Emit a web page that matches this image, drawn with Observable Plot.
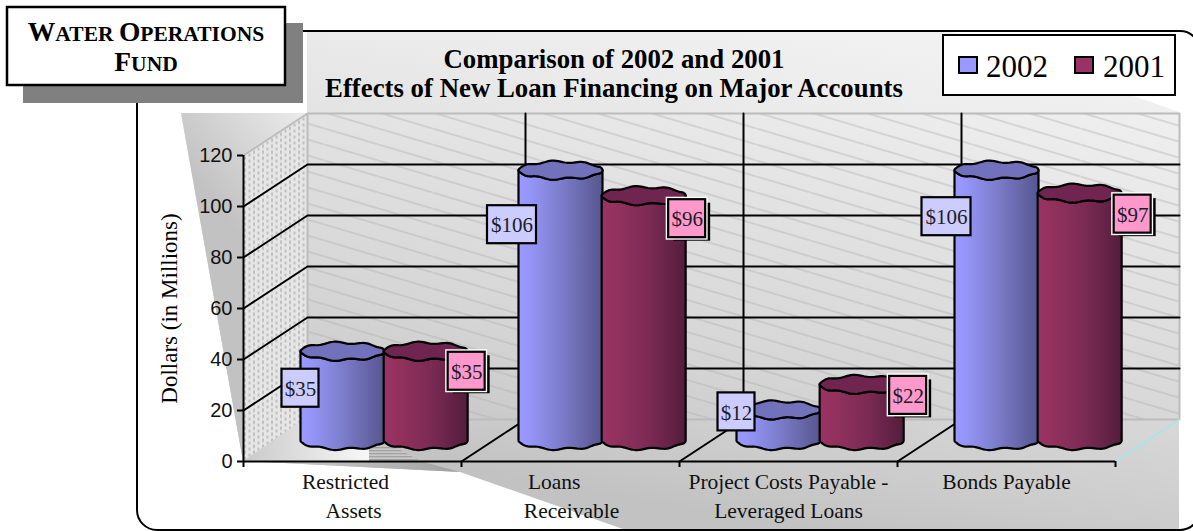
<!DOCTYPE html>
<html>
<head>
<meta charset="utf-8">
<title>Water Operations Fund</title>
<script src="https://cdn.jsdelivr.net/npm/d3@7"></script>
<script src="https://cdn.jsdelivr.net/npm/@observablehq/plot@0.6"></script>
<style>
  html, body { margin: 0; padding: 0; background: #fff; }
  svg { display: block; }
</style>
</head>
<body>
<div id="chart"></div>
<script>
// Values, in millions of dollars
const categories = ["Restricted Assets", "Loans Receivable", "Project Costs Payable - Leveraged Loans", "Bonds Payable"];
const values2002 = [35, 106, 12, 106];
const values2001 = [35, 96, 22, 97];
const yTicks = [0, 20, 40, 60, 80, 100, 120];

// Category label lines: text, plus the slot position it is centred on
const labelLines = ["Restricted", "Assets", "Loans", "Receivable", "Project Costs Payable -", "Leveraged Loans", "Bonds Payable"];
const labelSlots = [0.468, 0.505, 1.425, 1.505, 2.5, 2.5, 3.5];
const labelRows = [0, 1, 0, 1, 0, 1, 0];

// Value tags are hand placed relative to the top of their cylinder, in pixels
const tagShift2002 = [[-42, 37], [-48.5, 54.5], [-42, 2], [-50, 46.5]];
const tagShift2001 = [[41, 20], [43.5, 23], [46.5, 11], [53, 21]];

const serif = "Liberation Serif";
const sans = "Liberation Sans";

// Frame geometry shared by the scales and the 3-D projection
const W = 1193, H = 531, plotLeft = 243, plotRight = 1115, plotTop = 155, plotBottom = 461;
const pxX = (plotRight - plotLeft) / 4;      // pixels per category
const pxY = (plotBottom - plotTop) / 120;    // pixels per million
const depthX = 64 / pxX;             // full floor depth in x units
const depthY = 42 / pxY;             // full floor depth in y units

// Oblique projection: d = 0 at the front edge of the floor, d = 1 at the back wall
const at = (x, y, d = 0) => ({x: x + d * depthX, y: y + d * depthY});

const radiusX = 42 / pxX, radiusY = 8.6 / pxY, rimRipple = 0.45;
const rim = (t) => radiusY * Math.sin(t) + rimRipple * Math.sin(8 * t) * Math.abs(Math.sin(t));

// Outline of a cylinder wall: lower front arc at the base, then back along the top rim
function body(cx, v, id) {
  const pts = [];
  for (let k = 0; k <= 60; ++k) {
    const t = Math.PI * (1 - k / 60);
    const p = at(cx + radiusX * Math.cos(t), -rim(t), 0.5);
    pts.push({...p, id});
  }
  for (let k = 60; k >= 0; --k) {
    const t = Math.PI * (1 - k / 60);
    const p = at(cx + radiusX * Math.cos(t), v - rim(t), 0.5);
    pts.push({...p, id});
  }
  pts.push(pts[0]);
  return pts;
}

// Outline of the cylinder's top face
function cap(cx, v, id) {
  const pts = [];
  for (let k = 0; k <= 120; ++k) {
    const t = 2 * Math.PI * k / 120;
    const p = at(cx + radiusX * Math.cos(t), v - rim(t), 0.5);
    pts.push({...p, id});
  }
  return pts;
}

const centre2002 = (i) => i + 0.5 - radiusX;
const centre2001 = (i) => i + 0.5 + radiusX * 0.98;

const bodies2002 = values2002.flatMap((v, i) => body(centre2002(i), v, i));
const bodies2001 = values2001.flatMap((v, i) => body(centre2001(i), v, i));
const caps2002 = values2002.flatMap((v, i) => cap(centre2002(i), v, i));
const caps2001 = values2001.flatMap((v, i) => cap(centre2001(i), v, i));

// Tag boxes, converted from pixel offsets into data units
function tags(values, shifts, centre) {
  return values.map((v, i) => {
    const top3d = at(centre(i), v, 0.5);
    const text = "$" + v;
    const w = (text.length > 3 ? 49 : 37) / pxX, h = 38 / pxY;
    const x = top3d.x + shifts[i][0] / pxX, y = top3d.y - shifts[i][1] / pxY;
    return {text, x, y, x1: x - w / 2, x2: x + w / 2, y1: y - h / 2, y2: y + h / 2};
  });
}
const tags2002 = tags(values2002, tagShift2002, centre2002);
const tags2001 = tags(values2001, tagShift2001, centre2001);

// Wall and floor line work
const segment = (a, b, id) => [{...a, id}, {...b, id}];
const gridLevels = yTicks.slice(1, -1);
const gridLines = gridLevels.flatMap((v) => [
  {...at(0, v, 0), id: v}, {...at(0, v, 1), id: v}, {...at(4, v, 1), id: v}
]);
const dividers = [1, 2, 3].flatMap((i) => [
  {...at(i, 0, 0), id: i}, {...at(i, 0, 1), id: i}, {...at(i, 120, 1), id: i}
]);
const sideWall = [at(0, 0, 0), at(0, 120, 0), at(0, 120, 1), at(0, 0, 1), at(0, 0, 0)];
const backWall = [at(0, 0, 1), at(0, 120, 1), at(4, 120, 1), at(4, 0, 1), at(0, 0, 1)];
const wallEdge = [at(0, 120, 0), at(0, 120, 1), at(4, 120, 1), at(4, 0, 1), at(0, 0, 1), at(0, 120, 1)];

// Gradients and patterns, the rounded panel, the heading box and the legend
function panel() {
  const g = d3.create("svg:g");
  const defs = g.append("defs");

  const linear = (id, attrs, stops) => {
    const lg = defs.append("linearGradient").attr("id", id);
    Object.entries(attrs).forEach(([k, v]) => lg.attr(k, v));
    stops.forEach(([o, c]) => lg.append("stop").attr("offset", o).attr("stop-color", c));
  };
  linear("side2002", {}, [[0, "#9999ff"], [0.12, "#9696fa"], [0.5, "#7d7dcc"], [1, "#56568f"]]);
  linear("side2001", {}, [[0, "#993366"], [0.12, "#96325f"], [0.55, "#7c2b55"], [1, "#541d3c"]]);
  linear("panelShade", {gradientUnits: "userSpaceOnUse", x1: 1000, y1: 0, x2: 900, y2: 560},
    [[0.1, "#f1f1f1"], [0.25, "#ebebeb"], [0.45, "#e1e1e1"], [0.7, "#d6d6d6"], [0.86, "#cccccc"], [0.98, "#c2c2c2"]]);
  linear("wingShade", {gradientUnits: "userSpaceOnUse", x1: 205, y1: 190, x2: 307, y2: 110},
    [[0, "#c2c2c2"], [1, "#ececec"]]);
  linear("floorGlow", {gradientUnits: "userSpaceOnUse", x1: 250, y1: 0, x2: 365, y2: 0},
    [[0, "#cccccc"], [1, "#f6f6f6"]]);
  linear("floorTail", {gradientUnits: "userSpaceOnUse", x1: 250, y1: 0, x2: 450, y2: 0},
    [[0, "#d4d4d4"], [1, "#a4a4a4"]]);

  const hatch = defs.append("pattern").attr("id", "wallHatch")
    .attr("patternUnits", "userSpaceOnUse").attr("width", 54).attr("height", 16);
  hatch.append("line").attr("x1", 0).attr("y1", 0).attr("x2", 54).attr("y2", 16)
    .attr("stroke", "#aeaeae").attr("stroke-width", 0.8);

  const dots = defs.append("pattern").attr("id", "sideDots")
    .attr("patternUnits", "userSpaceOnUse").attr("width", 9).attr("height", 6);
  dots.append("rect").attr("width", 9).attr("height", 6).attr("fill", "#e6e6e6");
  dots.append("line").attr("x1", 1.5).attr("y1", 0).attr("x2", 1.5).attr("y2", 3.5)
    .attr("stroke", "#9a9a9a").attr("stroke-width", 1);
  dots.append("line").attr("x1", 6).attr("y1", 3).attr("x2", 6).attr("y2", 6)
    .attr("stroke", "#9a9a9a").attr("stroke-width", 1);

  const stripes = defs.append("pattern").attr("id", "floorStripes")
    .attr("patternUnits", "userSpaceOnUse").attr("width", 4).attr("height", 3);
  stripes.append("rect").attr("width", 4).attr("height", 3).attr("fill", "#c8c8c8");
  stripes.append("rect").attr("width", 4).attr("height", 1.3).attr("fill", "#a2a2a2");

  // White panel, the shaded backdrop, then the outline on top of both
  g.append("rect").attr("x", 137).attr("y", 31).attr("width", 1063).attr("height", 499)
    .attr("rx", 20).attr("fill", "white");
  g.append("path")
    .attr("d", "M307,32 L952,32 L1179,112 L1179,529 L623,529 L460,472 L243,461 L181,113 L307,113 Z")
    .attr("fill", "url(#panelShade)");
  g.append("path")
    .attr("d", "M181,113 L307,113 L243,155 L243,461 Z")
    .attr("fill", "url(#wingShade)");
  g.append("rect").attr("x", 137).attr("y", 31).attr("width", 1063).attr("height", 499)
    .attr("rx", 20).attr("fill", "none").attr("stroke", "black").attr("stroke-width", 2);

  // Heading box with its drop shadow
  g.append("rect").attr("x", 23).attr("y", 23).attr("width", 280).attr("height", 80).attr("fill", "#808080");
  g.append("rect").attr("x", 7).attr("y", 7).attr("width", 278).attr("height", 78)
    .attr("fill", "white").attr("stroke", "black").attr("stroke-width", 2.5);
  const smallCaps = (y, parts) => {
    const t = g.append("text").attr("x", 146).attr("y", y).attr("text-anchor", "middle")
      .attr("font-family", serif).attr("font-weight", "bold").attr("fill", "black");
    parts.forEach(([s, size]) => t.append("tspan").attr("font-size", size).text(s));
  };
  smallCaps(41, [["W", 27.5], ["ATER ", 21.5], ["O", 27.5], ["PERATIONS", 21.5]]);
  smallCaps(71, [["F", 27.5], ["UND", 21.5]]);

  // Chart title
  [["Comparison of 2002 and 2001", 67.5], ["Effects of New Loan Financing on Major Accounts", 97]].forEach(([s, y]) => {
    g.append("text").attr("x", 614).attr("y", y).attr("text-anchor", "middle")
      .attr("font-family", serif).attr("font-weight", "bold").attr("font-size", 26.8)
      .attr("fill", "black").text(s);
  });

  // Legend
  g.append("rect").attr("x", 943).attr("y", 35).attr("width", 232).attr("height", 60)
    .attr("fill", "white").attr("stroke", "black").attr("stroke-width", 2);
  [["2002", 959, "#9999ff", 986], ["2001", 1075, "#993366", 1103]].forEach(([s, sx, c, tx]) => {
    g.append("rect").attr("x", sx).attr("y", 57).attr("width", 18).attr("height", 16)
      .attr("fill", c).attr("stroke", "black").attr("stroke-width", 2);
    g.append("text").attr("x", tx).attr("y", 77).attr("text-anchor", "start")
      .attr("font-family", serif).attr("font-size", 31).attr("fill", "black").text(s);
  });

  return g.node();
}

// Highlight and streaks on the floor under the first cylinders
function floorMarks() {
  const g = d3.create("svg:g");
  g.append("path").attr("d", "M243,461 L301,421 L370,445 L370,461 Z").attr("fill", "url(#floorGlow)");
  g.append("path").attr("d", "M369,447 L395,447 L420,461 L369,461 Z").attr("fill", "url(#floorStripes)");
  g.append("path").attr("d", "M243,461 L420,461 L460,472 Z").attr("fill", "url(#floorTail)");
  return g.node();
}

const wallOptions = {x: "x", y: "y"};
const outline = {x: "x", y: "y", z: "id", stroke: "black", strokeWidth: 2.2};

const tagLayers = (data, fill, shadow) => [
  ...(shadow ? [
    Plot.rect(data, {x1: "x1", x2: "x2", y1: "y1", y2: "y2", fill: "black", dx: 5, dy: 3.5}),
    Plot.rect(data, {x1: "x1", x2: "x2", y1: "y1", y2: "y2", fill: "white", stroke: "white", strokeWidth: 5})
  ] : []),
  Plot.rect(data, {x1: "x1", x2: "x2", y1: "y1", y2: "y2", fill, stroke: "black", strokeWidth: 2.2}),
  Plot.text(data, {x: "x", y: "y", text: "text", fontFamily: serif, fontSize: 21, fill: "#1c1c2a", dy: 1})
];

const chart = Plot.plot({
  width: W,
  height: H,
  marginLeft: plotLeft,
  marginRight: W - plotRight,
  marginTop: plotTop,
  marginBottom: H - plotBottom,
  ariaLabel: categories.join(", "),
  x: {domain: [0, 4], axis: null},
  y: {domain: [0, 120], axis: null},
  style: {background: "white", color: "black"},
  marks: [
    panel,

    // Walls and floor
    Plot.line(sideWall, {...wallOptions, fill: "url(#sideDots)", stroke: "none"}),
    Plot.line(backWall, {...wallOptions, fill: "url(#wallHatch)", stroke: "none"}),
    floorMarks,
    Plot.line(wallEdge, {...wallOptions, stroke: "#bcbcbc", strokeWidth: 2}),
    Plot.line(gridLines, {x: "x", y: "y", z: "id", stroke: "black", strokeWidth: 2}),
    Plot.line(dividers, {x: "x", y: "y", z: "id", stroke: "black", strokeWidth: 2}),
    Plot.line(segment(at(4, 0, 0), at(4, 0, 1), "edge"), {...wallOptions, stroke: "#a8e6e6", strokeWidth: 2}),

    // Axes
    Plot.ruleX([0], {y1: 0, y2: 120, stroke: "black", strokeWidth: 2}),
    Plot.ruleY([0], {x1: 0, x2: 4, stroke: "black", strokeWidth: 2}),
    Plot.ruleX([0, 1, 2, 3, 4], {y1: 0, y2: -6 / pxY, stroke: "black", strokeWidth: 2}),
    Plot.axisY({ticks: yTicks, tickSize: 6, tickPadding: 5, fontSize: 20, fontFamily: sans, stroke: "black",
      strokeWidth: 2, strokeOpacity: 1, label: null, anchor: "left", fill: "#111"}),
    Plot.text(["Dollars (in Millions)"], {x: -73.5 / pxX, y: 60, rotate: -90, fontFamily: serif, fontSize: 23, fill: "black"}),
    Plot.text(labelLines, {
      x: (d, i) => labelSlots[i],
      y: (d, i) => -(21 + labelRows[i] * 28.5) / pxY,
      text: (d) => d,
      fontFamily: serif,
      fontSize: 21.5,
      fill: "#111"
    }),

    // Cylinders: 2001 overlaps 2002 where they meet
    Plot.line(bodies2002, {...outline, fill: "url(#side2002)"}),
    Plot.line(caps2002, {...outline, fill: "#7272bc"}),
    Plot.line(bodies2001, {...outline, fill: "url(#side2001)"}),
    Plot.line(caps2001, {...outline, fill: "#6f2550"}),

    // Value tags
    ...tagLayers(tags2002, "#ccccff", false),
    ...tagLayers(tags2001, "#ff99cc", true)
  ]
});

document.getElementById("chart").append(chart);
</script>
</body>
</html>
